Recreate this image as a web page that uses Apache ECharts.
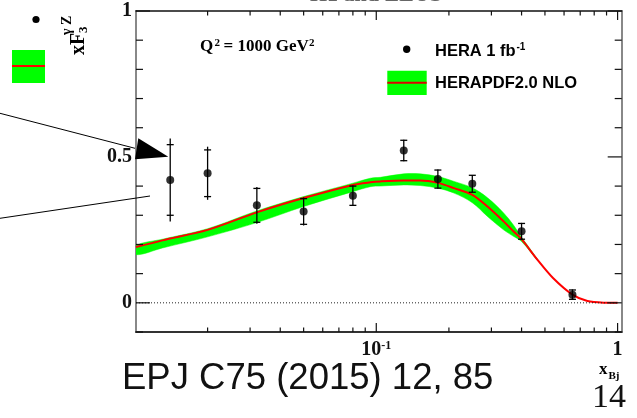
<!DOCTYPE html>
<html>
<head>
<meta charset="utf-8">
<title>xF3 gamma-Z at Q2 = 1000 GeV2</title>
<script src="https://cdn.jsdelivr.net/npm/echarts@6/dist/echarts.min.js"></script>
<style>
  html, body { margin: 0; padding: 0; background: #fff; }
  #chart { width: 637px; height: 418px; }
</style>
</head>
<body>
<div id="chart"></div>
<script>
// HERA combined data: xF3^{gamma Z} at Q^2 = 1000 GeV^2
const xBj     = [0.014, 0.02, 0.032, 0.05, 0.08, 0.13, 0.18, 0.25, 0.40, 0.65];
const xF3     = [0.421, 0.444, 0.334, 0.313, 0.367, 0.522, 0.424, 0.408, 0.245, 0.028];
const statErr = [0.121, 0.080, 0.058, 0.044, 0.033, 0.035, 0.031, 0.029, 0.027, 0.016];
const totErr  = [0.142, 0.091, 0.063, 0.048, 0.035, 0.037, 0.033, 0.030, 0.029, 0.018];

// HERAPDF2.0 NLO prediction: central value
const pdfX    = [0.0101, 0.013, 0.02, 0.032, 0.05, 0.08, 0.0945, 0.104, 0.13, 0.152, 0.18, 0.21,
                 0.25, 0.289, 0.337, 0.37, 0.40, 0.465, 0.54, 0.65, 0.75, 0.88, 1.0];
const pdfCentral = [0.191, 0.214, 0.250, 0.310, 0.359, 0.404, 0.413, 0.416, 0.419, 0.419, 0.411, 0.393,
                    0.370, 0.330, 0.279, 0.245, 0.218, 0.148, 0.085, 0.028, 0.006, 0.0005, 0.0];

// HERAPDF2.0 NLO uncertainty band
const bandX    = [0.0101, 0.013, 0.02, 0.032, 0.05, 0.08, 0.0945, 0.104, 0.13, 0.152, 0.18, 0.21,
                  0.25, 0.289, 0.337, 0.37, 0.40, 0.465];
const bandLow  = [0.165, 0.188, 0.226, 0.275, 0.330, 0.381, 0.398, 0.400, 0.404, 0.402, 0.393, 0.376,
                  0.343, 0.296, 0.250, 0.228, 0.210, 0.146];
const bandHigh = [0.196, 0.218, 0.254, 0.315, 0.364, 0.410, 0.427, 0.430, 0.442, 0.442, 0.433, 0.416,
                  0.394, 0.360, 0.308, 0.267, 0.225, 0.150];

// axis ranges, ticks and labels
const X_MIN = 0.0101, X_MAX = 1.04;
const Y_MIN = -0.1, Y_MAX = 1.0;
const xMinorTicks = [0.02, 0.03, 0.04, 0.05, 0.06, 0.07, 0.08, 0.09, 0.2, 0.3, 0.4, 0.5, 0.6, 0.7, 0.8, 0.9];
const xMajorTicks = [0.1, 1];
const yMinorTicks = [-0.1, 0.1, 0.2, 0.3, 0.4, 0.6, 0.7, 0.8, 0.9];
const yMajorTicks = [0, 0.5, 1];
const yLabelVals  = [0, 0.5, 1];
const yLabelText  = ['0', '0.5', '1'];
const zeroLine    = [[X_MIN, 0], [1, 0]];

const serif = '"Liberation Serif", "Times New Roman", serif';
const sans = '"Liberation Sans", Arial, Helvetica, sans-serif';

const chart = echarts.init(document.getElementById('chart'), null, { renderer: 'canvas' });

const pointData = xBj.map((x, i) => [x, xF3[i], statErr[i], totErr[i]]);
const centralData = pdfX.map((x, i) => [x, pdfCentral[i]]);
const bandData = bandX.map((x, i) => [x, bandLow[i], bandHigh[i]]);

// tick marks: kind 0 = x minor, 1 = x major, 2 = y minor, 3 = y major
const tickData = []
  .concat(xMinorTicks.map(v => [v, 0, 0]))
  .concat(xMajorTicks.map(v => [v, 0, 1]))
  .concat(yMinorTicks.map(v => [1, v, 2]))
  .concat(yMajorTicks.map(v => [1, v, 3]));

function renderTicks(params, api) {
  const cs = params.coordSys;
  const kind = api.value(2);
  const st = { stroke: '#111', lineWidth: 1.2 };
  if (kind < 2) {
    const px = api.coord([api.value(0), 0])[0];
    const len = kind === 1 ? 9 : 4.5;
    const yb = cs.y + cs.height, yt = cs.y;
    return { type: 'group', children: [
      { type: 'line', shape: { x1: px, y1: yb, x2: px, y2: yb - len }, style: st },
      { type: 'line', shape: { x1: px, y1: yt, x2: px, y2: yt + len }, style: st }
    ] };
  }
  const py = api.coord([1, api.value(1)])[1];
  const len = kind === 3 ? 14 : 7;
  const xl = cs.x, xr = cs.x + cs.width;
  return { type: 'group', children: [
    { type: 'line', shape: { x1: xl, y1: py, x2: xl + len, y2: py }, style: st },
    { type: 'line', shape: { x1: xr, y1: py, x2: xr - len, y2: py }, style: st }
  ] };
}

// uncertainty band as one smoothed outline: upper edge left to right, lower edge back
function renderBand(params, api) {
  if (params.dataIndex !== 0) return null;
  const upper = bandData.map(d => api.coord([d[0], d[2]]));
  const lower = bandData.map(d => api.coord([d[0], d[1]])).reverse();
  return {
    type: 'polygon',
    shape: { points: upper.concat(lower), smooth: 0.35 },
    style: { fill: '#00ff00', stroke: '#00ff00', lineWidth: 0.5 }
  };
}

function renderErrors(params, api) {
  const x = api.value(0), y = api.value(1), s = api.value(2), t = api.value(3);
  const c = api.coord([x, y]);
  const top = api.coord([x, y + t])[1], bot = api.coord([x, y - t])[1];
  const sTop = api.coord([x, y + s])[1], sBot = api.coord([x, y - s])[1];
  const cap = 3.5;
  const st = { stroke: '#000', lineWidth: 1.3 };
  return { type: 'group', children: [
    { type: 'line', shape: { x1: c[0], y1: top, x2: c[0], y2: bot }, style: st },
    { type: 'line', shape: { x1: c[0] - cap, y1: sTop, x2: c[0] + cap, y2: sTop }, style: st },
    { type: 'line', shape: { x1: c[0] - cap, y1: sBot, x2: c[0] + cap, y2: sBot }, style: st }
  ] };
}

function xLabel(v) {
  const lg = Math.log10(v);
  if (Math.abs(lg + 1) < 1e-6) return '{b|10}{s|-1}';
  if (Math.abs(lg) < 1e-6) return '{b|1}';
  return '';
}
function yLabel(v) {
  for (let i = 0; i < yLabelVals.length; i++) {
    if (Math.abs(v - yLabelVals[i]) < 1e-9) return yLabelText[i];
  }
  return '';
}

const txt = (x, y, text, font, extra) => ({
  type: 'text', x: x, y: y, z: 50,
  style: Object.assign({ text: text, font: font, fill: '#000', align: 'left', verticalAlign: 'middle' }, extra || {})
});

const option = {
  animation: false,
  backgroundColor: '#fff',
  grid: { left: 136, right: 15.3, top: 11, bottom: 86, containLabel: false },
  xAxis: [
    {
      type: 'log', logBase: 10, min: X_MIN, max: X_MAX, position: 'bottom',
      axisLine: { show: true, onZero: false, lineStyle: { color: '#333', width: 2 } },
      axisTick: { show: false }, splitLine: { show: false },
      axisLabel: {
        formatter: xLabel, margin: 8,
        rich: {
          b: { fontFamily: serif, fontWeight: 'bold', fontSize: 20, color: '#111' },
          s: { fontFamily: serif, fontWeight: 'bold', fontSize: 12, color: '#111', verticalAlign: 'top' }
        }
      }
    },
    {
      type: 'log', logBase: 10, min: X_MIN, max: X_MAX, position: 'top',
      axisLine: { show: true, onZero: false, lineStyle: { color: '#111', width: 1.5 } },
      axisTick: { show: false }, splitLine: { show: false }, axisLabel: { show: false }
    }
  ],
  yAxis: [
    {
      type: 'value', min: Y_MIN, max: Y_MAX, interval: 0.1, position: 'left',
      axisLine: { show: true, onZero: false, lineStyle: { color: '#888', width: 2 } },
      axisTick: { show: false }, splitLine: { show: false },
      axisLabel: {
        formatter: yLabel, margin: 4,
        fontFamily: serif, fontWeight: 'bold', fontSize: 20, color: '#111'
      }
    },
    {
      type: 'value', min: Y_MIN, max: Y_MAX, interval: 0.1, position: 'right',
      axisLine: { show: true, onZero: false, lineStyle: { color: '#888', width: 2 } },
      axisTick: { show: false }, splitLine: { show: false }, axisLabel: { show: false }
    }
  ],
  series: [
    {
      name: 'HERAPDF2.0 NLO band', type: 'custom', data: bandData, renderItem: renderBand,
      encode: { x: 0, y: [1, 2] }, silent: true, clip: true, z: 2
    },
    {
      name: 'HERAPDF2.0 NLO', type: 'line', data: centralData, smooth: 0.3,
      symbol: 'none', silent: true, lineStyle: { color: '#ff0000', width: 2 }, z: 3
    },
    {
      name: 'zero', type: 'line', data: zeroLine, symbol: 'none', silent: true,
      lineStyle: { color: '#222', width: 1, type: [1, 2] }, z: 3
    },
    {
      name: 'errors', type: 'custom', data: pointData, renderItem: renderErrors,
      encode: { x: 0, y: 1 }, silent: true, z: 4
    },
    {
      name: 'HERA 1 fb-1', type: 'scatter', data: pointData.map(p => [p[0], p[1]]),
      symbol: 'circle', symbolSize: 8, itemStyle: { color: '#000' }, silent: true, z: 5
    },
    {
      name: 'ticks', type: 'custom', data: tickData, renderItem: renderTicks,
      encode: { x: 0, y: 1 }, silent: true, clip: false, z: 6
    }
  ],
  graphic: [
    // clipped header
    txt(310, -4.5, 'H1 and ZEUS', 'bold 22px ' + serif, { fill: '#666' }),
    // y axis title: xF3^{gamma Z}
    {
      type: 'group', x: 78.5, y: 55, rotation: Math.PI / 2, z: 50,
      children: [
        { type: 'text', x: 0, y: 0, style: { text: 'xF', font: 'bold 20px ' + serif, fill: '#000', align: 'left', verticalAlign: 'middle' } },
        { type: 'text', x: 22, y: 5.5, style: { text: '3', font: 'bold 13px ' + serif, fill: '#000', align: 'left', verticalAlign: 'middle' } },
        { type: 'text', x: 20, y: -11, style: { text: 'γ Z', font: 'bold 14px ' + serif, fill: '#000', align: 'left', verticalAlign: 'middle' } }
      ]
    },
    // side legend keys
    { type: 'circle', shape: { cx: 36, cy: 19.5, r: 3.6 }, style: { fill: '#000' }, z: 50 },
    { type: 'rect', shape: { x: 12, y: 50, width: 33, height: 33 }, style: { fill: '#00ff00' }, z: 50 },
    { type: 'line', shape: { x1: 12, y1: 66, x2: 45, y2: 66 }, style: { stroke: '#ff0000', lineWidth: 2 }, z: 51 },
    // pointer
    { type: 'line', shape: { x1: 0, y1: 113.3, x2: 135, y2: 148.3 }, style: { stroke: '#000', lineWidth: 1 }, z: 60 },
    { type: 'line', shape: { x1: 0, y1: 218.3, x2: 150, y2: 196 }, style: { stroke: '#000', lineWidth: 1 }, z: 60 },
    { type: 'polygon', shape: { points: [[138.3, 138.3], [135, 159.3], [168.3, 156.7]] }, style: { fill: '#000' }, z: 60 },
    // kinematic label
    txt(200, 47, 'Q', 'bold 17px ' + serif),
    txt(214.5, 43, '2', 'bold 11px ' + serif),
    txt(223.5, 47, '= 1000 GeV', 'bold 17px ' + serif),
    txt(309, 43, '2', 'bold 11px ' + serif),
    // legend
    { type: 'circle', shape: { cx: 406.7, cy: 49.3, r: 3.7 }, style: { fill: '#000' }, z: 50 },
    txt(435, 51, 'HERA 1 fb', 'bold 16.5px ' + sans),
    txt(516.5, 47, '-1', 'bold 10px ' + sans),
    { type: 'rect', shape: { x: 387.3, y: 70.7, width: 39.4, height: 24.3 }, style: { fill: '#00ff00' }, z: 50 },
    { type: 'line', shape: { x1: 387.3, y1: 82.7, x2: 426.7, y2: 82.7 }, style: { stroke: '#e00000', lineWidth: 2 }, z: 51 },
    txt(435, 83, 'HERAPDF2.0 NLO', 'bold 16.5px ' + sans),
    // x axis title
    txt(599, 369.5, 'x', 'bold 17px ' + serif),
    txt(608.5, 376, 'Bj', 'bold 11px ' + serif),
    // reference and page number
    txt(122, 379, 'EPJ C75 (2015) 12, 85', '36.5px ' + sans, { fill: '#111' }),
    txt(592, 398, '14', '34px ' + serif, { fill: '#111' })
  ]
};

chart.setOption(option);
</script>
</body>
</html>
